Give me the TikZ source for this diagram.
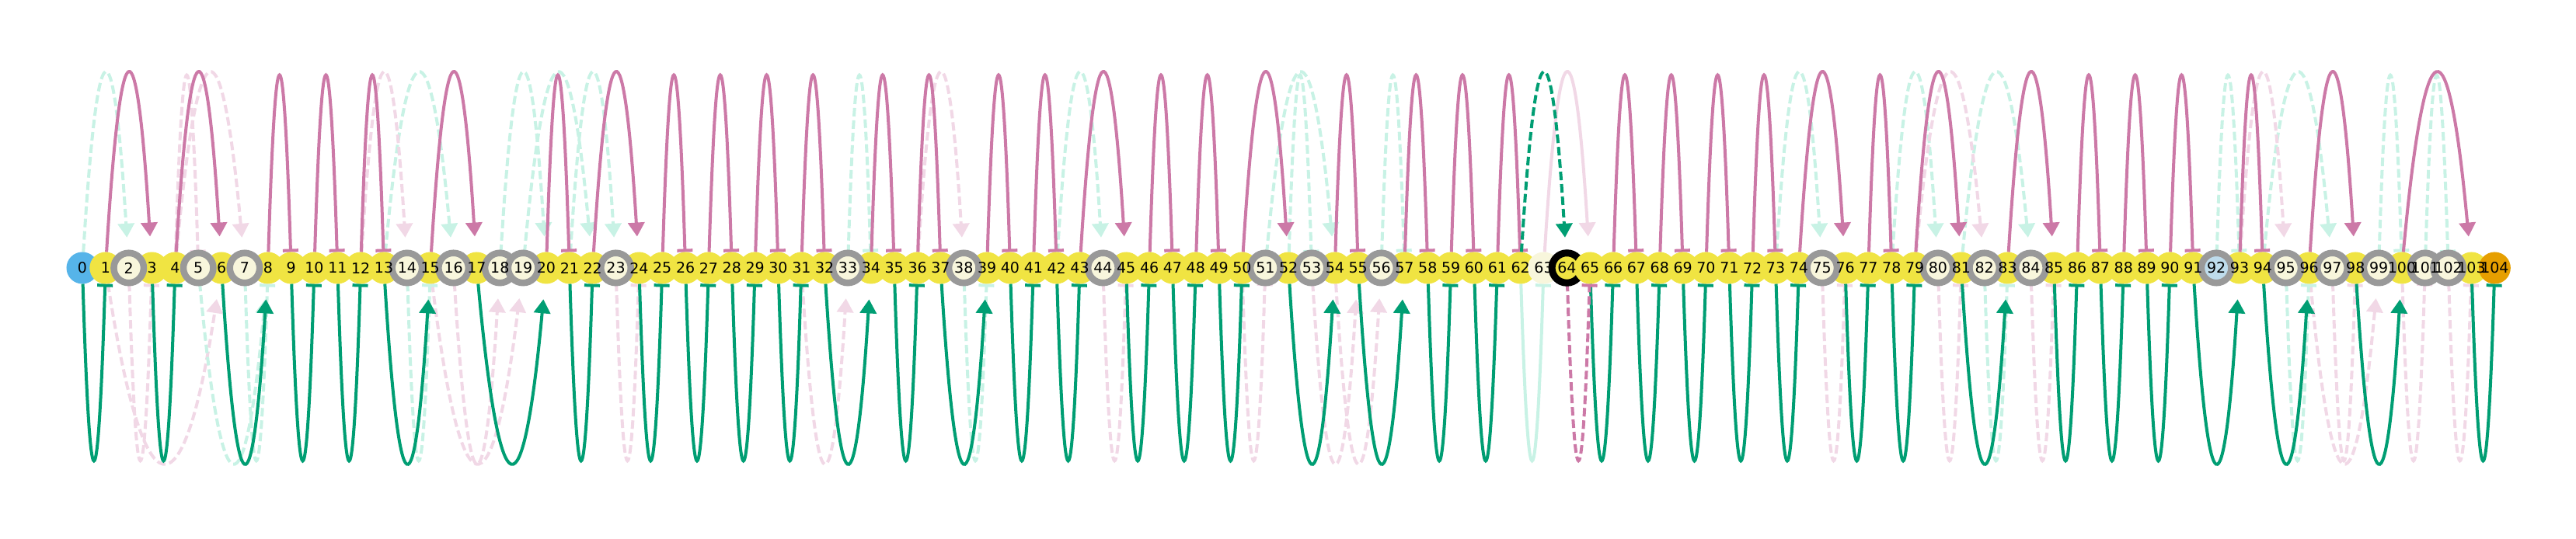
\documentclass[tikz,border=0pt]{standalone}
\usepackage{fontspec}
\setmainfont{DejaVu Sans}
\usetikzlibrary{arrows.meta}

\definecolor{cbyellow}{HTML}{F0E442}
\definecolor{cbblue}{HTML}{56B4E9}
\definecolor{cborange}{HTML}{E69F00}
\definecolor{cbpink}{HTML}{CC79A7}
\definecolor{cbgreen}{HTML}{009E73}
\definecolor{mint}{HTML}{C8F2E5}
\definecolor{fadepink}{HTML}{F1D8E6}
\definecolor{cream}{HTML}{F8F6DC}
\definecolor{paleblue}{HTML}{BEDCEC}
\definecolor{ringgray}{HTML}{999999}

\pgfdeclarelayer{bg}
\pgfsetlayers{bg,main}

\newcommand{\colw}{0.2985}
\newcommand{\uparc}[3]{%
  \pgfmathtruncatemacro\gapn{#2-#1}%
  \pgfmathsetmacro\cx{(#2-#1)*\colw/3}%
  \draw[#3,tipfor=\gapn] (n#1) .. controls +(\cx,3.24) and +(-\cx,3.24) .. (n#2);}
\newcommand{\downarc}[3]{%
  \pgfmathtruncatemacro\gapn{#2-#1}%
  \pgfmathsetmacro\cx{(#2-#1)*\colw/3}%
  \draw[#3,tipfor=\gapn] (n#1) .. controls +(\cx,-3.24) and +(-\cx,-3.24) .. (n#2);}

\tikzset{
  live/.style={circle, fill=cbyellow, minimum size=0.41cm, inner sep=0pt, outer sep=0pt},
  gone/.style={circle, fill=cream, draw=ringgray, line width=0.085cm, minimum size=0.385cm, inner sep=0pt, outer sep=0pt},
  lbl/.style={font=\fontsize{5.4}{6.4}\selectfont, inner sep=0pt},
  link/.style={line width=0.04cm},
  pk/.style={link, draw=cbpink},
  gr/.style={link, draw=cbgreen},
  dashlink/.style={dash pattern=on 0.11cm off 0.05cm},
  fpk/.style={link, draw=fadepink, dashlink},
  fgr/.style={link, draw=mint, dashlink},
  head/.style={-{Triangle[length=1.8mm,width=2.1mm]}, shorten >=2mm},
  tee/.style={-{Bar[width=2mm]}},
  tipfor/.code={\ifnum#1=1 \pgfkeysalso{/tikz/tee}\else\pgfkeysalso{/tikz/head}\fi},
}

\begin{document}
\begin{tikzpicture}
  \useasboundingbox (-1.06,-3.49) rectangle (32.09,3.45);

  % nodes in order, rings on top
  \node[live, fill=cbblue] (n0) at (0,0) {};
  \foreach \i in {1,3,4,6,8,9,10,11,12,13,15,17,20,21,22,24,25,26,27,28,29,30,31,32,34,35,36,37,39,40,41,42,43,45,46,47,48,49,50,52,54,55,57,58,59,60,61,62}
    \node[live] (n\i) at (\i*\colw,0) {};
  \node[live, fill=cream] (n63) at (63*\colw,0) {};
  \node[live, draw=black, line width=0.09cm, minimum size=0.385cm] (n64) at (64*\colw,0) {};
  \foreach \i in {65,66,67,68,69,70,71,72,73,74,76,77,78,79,81,83,85,86,87,88,89,90,91,93,94,96,98,100,103}
    \node[live] (n\i) at (\i*\colw,0) {};
  \node[live, fill=cborange] (n104) at (104*\colw,0) {};
  \foreach \i in {2,5,7,14,16,18,19,23,33,38,44,51,53,56,75,80,82,84,95,97,99,101,102}
    \node[gone] (n\i) at (\i*\colw,0) {};
  \node[gone, fill=paleblue] (n92) at (92*\colw,0) {};
  \foreach \i in {0,...,104}
    \node[lbl] (t\i) at (n\i) {\i};

  \begin{pgfonlayer}{bg}
  % candidate links
  \foreach \a/\b in {0/2,13/16,18/20,19/22,21/23,33/34,42/44,51/54,52/53,56/57,73/75,78/80,81/84,92/93,94/97,99/100,101/102}
    {\uparc{\a}{\b}{fgr}}
  \foreach \a/\b in {4/5,4/7,12/14,36/38,79/82,93/95}
    {\uparc{\a}{\b}{fpk}}
  \foreach \a/\b in {1/6,2/3,15/19,16/18,23/24,31/33,44/45,50/51,53/55,54/56,75/76,80/81,84/85,96/99,97/98,100/101,102/103}
    {\downarc{\a}{\b}{fpk}}
  \foreach \a/\b in {5/8,7/8,14/15,38/39,82/83,95/96}
    {\downarc{\a}{\b}{fgr}}
  % links through 63 (removed)
  \downarc{62}{63}{link, draw=mint}
  \uparc{63}{65}{link, draw=fadepink}
  % current chain
  \foreach \a/\b in {0/1,3/4,6/8,9/10,11/12,13/15,17/20,21/22,24/25,26/27,28/29,30/31,32/34,35/36,37/39,40/41,42/43,45/46,47/48,49/50,52/54,55/57,58/59,60/61,65/66,67/68,69/70,71/72,73/74,76/77,78/79,81/83,85/86,87/88,89/90,91/93,94/96,98/100,103/104}
    {\downarc{\a}{\b}{gr}}
  \foreach \a/\b in {1/3,4/6,8/9,10/11,12/13,15/17,20/21,22/24,25/26,27/28,29/30,31/32,34/35,36/37,39/40,41/42,43/45,46/47,48/49,50/52,54/55,57/58,59/60,61/62,66/67,68/69,70/71,72/73,74/76,77/78,79/81,83/85,86/87,88/89,90/91,93/94,96/98,100/103}
    {\uparc{\a}{\b}{pk}}
  % 64 put in
  \uparc{62}{64}{gr, dashlink}
  \downarc{64}{65}{pk, dashlink}
  \end{pgfonlayer}
\end{tikzpicture}
\end{document}
